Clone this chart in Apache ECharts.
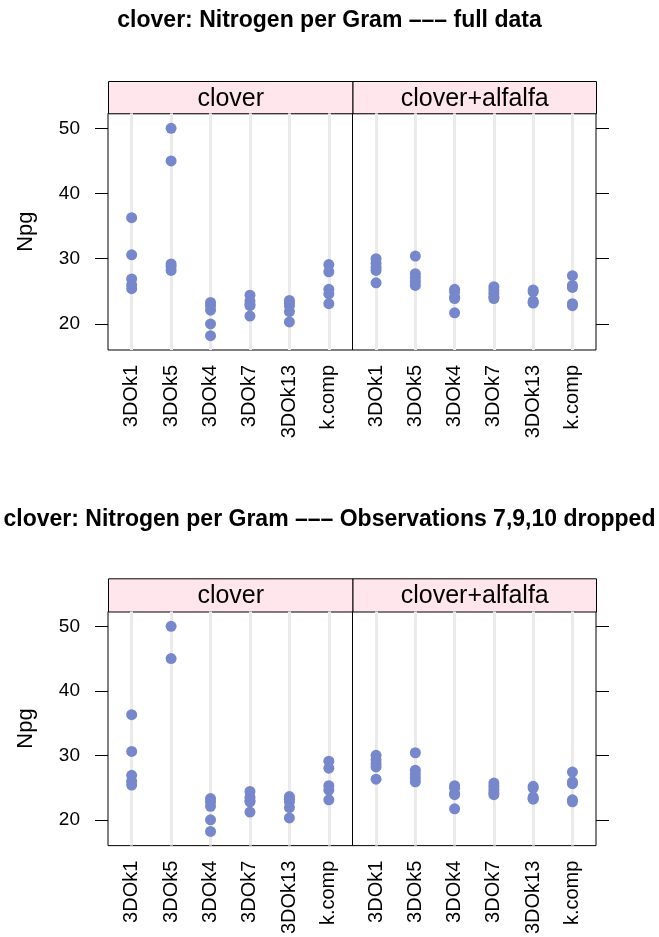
<!DOCTYPE html>
<html>
<head>
<meta charset="utf-8">
<script src="https://cdn.jsdelivr.net/npm/echarts@6/dist/echarts.min.js"></script>
<style>
html,body{margin:0;padding:0;background:#fff;}
#chart{width:659px;height:937px;}
</style>
</head>
<body>
<div id="chart"></div>
<script>
// ---- data ----
const strains = ['3DOk1', '3DOk5', '3DOk4', '3DOk7', '3DOk13', 'k.comp'];
const combos = ['clover', 'clover+alfalfa'];
const yTicks = [20, 30, 40, 50];
const droppedObs = [7, 9, 10];
const titles = [
  'clover: Nitrogen per Gram \u2013\u2013\u2013 full data',
  'clover: Nitrogen per Gram \u2013\u2013\u2013 Observations 7,9,10 dropped'
];

// clover alone (observations 1..30, five per strain)
const clover3DOk1  = [36.3, 30.6, 26.9, 26.0, 25.4];
const clover3DOk5  = [45.0, 29.2, 50.0, 28.8, 28.2];
const clover3DOk4  = [23.3, 22.8, 22.1, 20.0, 18.2];
const clover3DOk7  = [24.4, 23.5, 23.0, 22.8, 21.2];
const clover3DOk13 = [23.6, 23.2, 22.8, 21.9, 20.3];
const cloverKcomp  = [29.1, 28.0, 25.3, 24.6, 23.1];

// clover + alfalfa (observations 31..60)
const alfalfa3DOk1  = [30.0, 29.3, 28.7, 28.2, 26.3];
const alfalfa3DOk5  = [30.4, 27.7, 27.1, 26.5, 25.9];
const alfalfa3DOk4  = [25.3, 24.9, 24.1, 23.9, 21.7];
const alfalfa3DOk7  = [25.7, 25.2, 24.7, 24.2, 23.9];
const alfalfa3DOk13 = [25.2, 24.9, 23.5, 23.3, 23.2];
const alfalfaKcomp  = [27.4, 25.9, 25.6, 23.1, 22.8];

const cloverGroups  = [clover3DOk1, clover3DOk5, clover3DOk4, clover3DOk7, clover3DOk13, cloverKcomp];
const alfalfaGroups = [alfalfa3DOk1, alfalfa3DOk5, alfalfa3DOk4, alfalfa3DOk7, alfalfa3DOk13, alfalfaKcomp];

// ---- build ----
function points(groups, obsOffset, drop) {
  const out = [];
  groups.forEach((vals, si) => {
    vals.forEach((v, k) => {
      const obs = obsOffset + si * 5 + k + 1;
      if (drop && droppedObs.indexOf(obs) >= 0) return;
      out.push([si + 1, v]);
    });
  });
  return out;
}

const FONT = 'Liberation Sans';
const PT_COLOR = '#7787cc';
const STRIP_BG = '#ffe5ec';

const panelLeft = [108, 352.5];
const panelW = [244.5, 243.5];
const rows = [
  {stripTop: 81, plotTop: 113.3, plotH: 236.7, titleTop: 9},
  {stripTop: 578.3, plotTop: 611.5, plotH: 236.3, titleTop: 508}
];

const grid = [], xAxis = [], yAxis = [], series = [], graphic = [], title = [];
let gi = 0;
rows.forEach((row, ri) => {
  title.push({
    text: titles[ri], left: 'center', top: row.titleTop, padding: 0,
    textStyle: {fontFamily: FONT, fontSize: 23, fontWeight: 'bold', color: '#000'}
  });
  [0, 1].forEach(ci => {
    grid.push({
      left: panelLeft[ci], top: row.plotTop, width: panelW[ci], height: row.plotH,
      show: true, borderColor: '#000', borderWidth: 1, backgroundColor: 'transparent'
    });
    xAxis.push({
      type: 'value', gridIndex: gi, min: 0.4, max: 6.6,
      axisLine: {show: false}, axisTick: {show: false}, splitLine: {show: false},
      axisLabel: {
        customValues: [1, 2, 3, 4, 5, 6],
        formatter: v => strains[Math.round(v) - 1],
        rotate: 90, fontSize: 20, fontFamily: FONT, color: '#000', margin: 15
      }
    });
    const isLeft = ci === 0;
    yAxis.push({
      type: 'value', gridIndex: gi, min: 16.0, max: 52.3,
      position: isLeft ? 'left' : 'right',
      axisLine: {show: false}, splitLine: {show: false},
      axisTick: {show: true, inside: false, length: 13, customValues: yTicks,
                 lineStyle: {color: '#000', width: 1}},
      axisLabel: {show: isLeft, customValues: yTicks, fontSize: 19, fontFamily: FONT,
                  color: '#000', margin: 28},
      name: isLeft ? 'Npg' : '', nameLocation: 'middle', nameGap: 71,
      nameTextStyle: {fontFamily: FONT, fontSize: 22, color: '#000'}
    });
    // reference lines at each category (drawn beneath the points)
    series.push({
      type: 'scatter', xAxisIndex: gi, yAxisIndex: gi, data: [], z: 1, silent: true,
      markLine: {
        z: 1, silent: true, symbol: ['none', 'none'], animation: false,
        label: {show: false},
        lineStyle: {color: '#ebebeb', width: 3, type: 'solid'},
        emphasis: {disabled: true},
        data: strains.map((s, i) => ({xAxis: i + 1}))
      }
    });
    const pts = ci === 0 ? points(cloverGroups, 0, ri === 1) : points(alfalfaGroups, 30, ri === 1);
    series.push({
      type: 'scatter', xAxisIndex: gi, yAxisIndex: gi, data: pts, z: 10,
      symbol: 'circle', symbolSize: 11, itemStyle: {color: PT_COLOR, opacity: 1},
      animation: false
    });
    // strip
    graphic.push({
      type: 'group', left: panelLeft[ci], top: row.stripTop,
      children: [
        {type: 'rect', shape: {x: 0, y: 0, width: panelW[ci], height: row.plotTop - row.stripTop},
         style: {fill: STRIP_BG, stroke: '#000', lineWidth: 1}},
        {type: 'text', x: panelW[ci] / 2, y: (row.plotTop - row.stripTop) / 2 + 1,
         style: {text: combos[ci], font: '25px "Liberation Sans"', fill: '#000',
                 align: 'center', verticalAlign: 'middle'}}
      ]
    });
    gi++;
  });
});

const chart = echarts.init(document.getElementById('chart'), null, {renderer: 'canvas'});
chart.setOption({
  animation: false,
  backgroundColor: '#fff',
  title, grid, xAxis, yAxis, series, graphic
});
</script>
</body>
</html>
